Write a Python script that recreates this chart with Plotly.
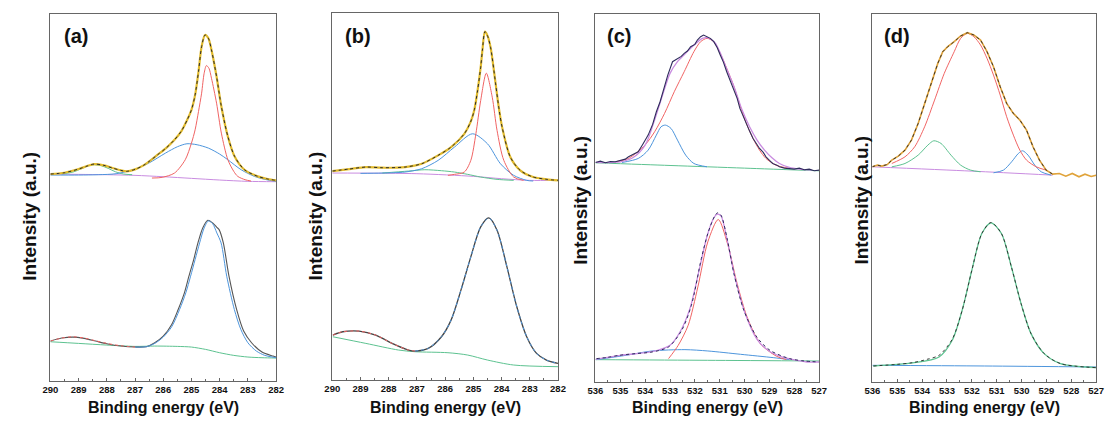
import plotly.graph_objects as go

# ---------------- tick labels ----------------
c1s_ticks = [290, 289, 288, 287, 286, 285, 284, 283, 282]
o1s_ticks = [536, 535, 534, 533, 532, 531, 530, 529, 528, 527]

# ---------------- Panel (a) upper ----------------
a_up_sum_e = [290, 289.5, 289, 288.7, 288.45, 288.1, 287.8, 287.5, 287.3, 287, 286.7, 286.5, 286.2, 285.9, 285.6,
              285.35, 285.15, 285, 284.87, 284.75, 284.64, 284.52, 284.4, 284.29, 284.11, 283.94, 283.71, 283.47,
              283.12, 282.65, 282.3, 282]
a_up_sum_i = [622, 626, 637, 646, 652, 648, 640, 633, 630, 636, 648, 660, 680, 700, 725,
              752, 785, 815, 860, 930, 1005, 1040, 1030, 995, 915, 825, 735, 675,
              635, 615, 607, 603]
a_up_red_e = [286.4, 286.04, 285.6, 285.22, 285.0, 284.87, 284.75, 284.64, 284.55, 284.47, 284.38, 284.29, 284.11,
              283.94, 283.71, 283.5, 283.36, 283.1, 282.89]
a_up_red_i = [610, 612, 625, 665, 715, 755, 810, 865, 925, 948, 940, 910, 835, 745, 665, 630, 615, 605, 601]
a_up_blue_e = [290, 289, 288.3, 287.67, 287, 286.51, 285.92, 285.5, 285.16, 284.8, 284.4, 284, 283.71, 283.24,
               282.77, 282.4, 282]
a_up_blue_i = [619, 619, 620, 623, 637, 655, 685, 704, 713, 710, 700, 682, 665, 635, 615, 606, 600]
a_up_green_e = [289.6, 289.2, 288.9, 288.65, 288.43, 288.2, 287.95, 287.7, 287.4, 287.1]
a_up_green_i = [622, 628, 638, 647, 650, 647, 639, 629, 622, 620]
a_up_bg_e = [290, 289, 288, 287, 286, 285, 284, 283, 282]
a_up_bg_i = [622, 621, 620, 618, 614, 609, 604, 600, 599]

# ---------------- Panel (a) lower ----------------
a_lo_raw_e = [290, 289.6, 289.2, 288.8, 288.4, 288, 287.5, 287, 286.6, 286.3, 286, 285.7, 285.47, 285.25, 285.09,
              284.92, 284.77, 284.6, 284.42, 284.25, 284.1, 284.02, 283.87, 283.67, 283.4, 283.15, 282.87, 282.5,
              282.11, 282]
a_lo_raw_i = [120, 129, 132, 128, 120, 112, 105, 102, 103, 115, 135, 170, 215, 265, 315,
              365, 415, 460, 483, 475, 462, 455, 415, 315, 215, 150, 115, 87, 75, 72]
a_lo_blue_e = [287, 286.6, 286.3, 286, 285.7, 285.42, 285.2, 285.03, 284.87, 284.71, 284.55, 284.4, 284.25, 284.1,
               283.95, 283.75, 283.48, 283.25, 283, 282.7, 282.4, 282]
a_lo_blue_i = [102, 103, 113, 132, 163, 215, 265, 315, 365, 415, 460, 481, 473, 445, 415, 315, 215, 155, 115, 90,
               77, 70]
a_lo_pink_e = [290, 289.6, 289.2, 288.8, 288.4, 288, 287.5, 287]
a_lo_pink_i = [120, 129, 133, 129, 121, 113, 106, 102]
a_lo_green_e = [290, 289, 288, 287, 286.3, 285.5, 285, 284.5, 284, 283.5, 283, 282.5, 282]
a_lo_green_i = [118, 113, 108, 104, 105, 104, 102, 95, 85, 77, 72, 70, 69]

# ---------------- Panel (b) upper ----------------
b_up_sum_e = [290, 289.4, 288.81, 288.23, 287.42, 286.83, 286.25, 285.79, 285.32, 285.1, 284.97, 284.85, 284.74,
              284.68, 284.59, 284.5, 284.39, 284.21, 284.1, 283.98, 283.69, 283.34, 282.88, 282.4, 282]
b_up_sum_i = [628, 634, 640, 638, 640, 650, 675, 700, 740, 775, 810, 870, 940, 990, 1047, 1035, 1000, 890, 820,
              760, 670, 630, 610, 603, 600]
b_up_red_e = [285.9, 285.67, 285.32, 285.09, 284.91, 284.74, 284.54, 284.33, 284.16, 283.92, 283.57, 283.22]
b_up_red_i = [615, 618, 625, 660, 740, 840, 922, 850, 750, 660, 610, 600]
b_up_blue_e = [289, 288.23, 287.42, 286.83, 286.25, 285.67, 285.03, 284.5, 284.04, 283.57, 283.11, 282.88]
b_up_blue_i = [621, 622, 625, 635, 660, 700, 740, 710, 650, 615, 600, 598]
b_up_green_e = [288.23, 287.3, 286.72, 286.13, 285.67, 285.2, 284.74, 284.16, 283.57]
b_up_green_i = [622, 628, 632, 629, 625, 618, 610, 603, 600]
b_up_bg_e = [290, 287, 285, 284, 283, 282]
b_up_bg_i = [622, 620, 612, 605, 600, 600]

# ---------------- Panel (b) lower ----------------
b_lo_raw_e = [289.98, 289.63, 289.05, 288.46, 287.88, 287.3, 287.07, 286.6, 286.13, 285.79, 285.44, 285.09,
              284.74, 284.45, 284.16, 283.81, 283.46, 283.11, 282.76, 282.41, 282]
b_lo_raw_i = [135, 145, 147, 135, 110, 90, 87, 95, 130, 180, 270, 370, 460, 487, 450, 340, 220, 130, 80, 60, 50]
b_lo_blue_e = [287.07, 286.6, 286.13, 285.79, 285.44, 285.09, 284.74, 284.45, 284.16, 283.81, 283.46, 283.11,
               282.76, 282.41, 282]
b_lo_blue_i = [87, 95, 130, 180, 270, 370, 460, 487, 450, 340, 220, 130, 80, 60, 50]
b_lo_pink_e = [289.98, 289.63, 289.05, 288.46, 287.88, 287.3, 287.07]
b_lo_pink_i = [135, 145, 147, 135, 110, 90, 87]
b_lo_green_e = [289.98, 288.81, 287.65, 287.07, 285.9, 285.2, 284.5, 283.57, 282]
b_lo_green_i = [130, 110, 90, 85, 82, 75, 60, 45, 40]

# ---------------- Panel (c) upper ----------------
c_up_raw_e = [536, 535.8, 535.6, 535.4, 535.2, 535.0, 534.8, 534.67, 534.5, 534.28, 534.1, 533.88, 533.7, 533.55,
              533.4, 533.29, 533.09, 532.9, 532.8, 532.7, 532.55, 532.43, 532.3, 532.17, 532.0, 531.9, 531.77,
              531.65, 531.51, 531.38, 531.24, 531.1, 530.98, 530.85, 530.72, 530.6, 530.45, 530.3, 530.19, 530.05,
              529.93, 529.8, 529.66, 529.5, 529.4, 529.25, 529.14, 529.0, 528.87, 528.7, 528.6, 528.4, 528.2,
              528.0, 527.8, 527.6, 527.4, 527.2, 527.0]
c_up_raw_i = [658, 662, 657, 661, 660, 664, 668, 675, 682, 690, 712, 740, 772, 810,
              840, 870, 920, 960, 965, 970, 976, 985, 992, 1005, 1012, 1025, 1035,
              1040, 1035, 1030, 1020, 1002, 980, 958, 930, 908, 880, 850, 820, 795,
              770, 752, 730, 712, 700, 688, 675, 664, 655, 650, 645, 641, 640,
              638, 641, 636, 638, 633, 635]
c_up_fit_e = [536, 535, 534.5, 534, 533.6, 533.3, 533, 532.7, 532.4, 532, 531.7, 531.5, 531.2, 531, 530.7, 530.4,
              530.1, 529.8, 529.5, 529.2, 528.9, 528.6, 528.2, 527.8, 527.3]
c_up_fit_i = [658, 660, 672, 710, 790, 860, 925, 960, 983, 1012, 1030, 1032, 1018, 990, 935, 880,
              815, 765, 725, 695, 672, 655, 643, 638, 635]
c_up_red_e = [535.2, 534.67, 534.01, 533.62, 533.22, 532.83, 532.43, 532.04, 531.77, 531.51, 531.24, 530.98,
              530.72, 530.45, 530.19, 529.93, 529.66, 529.4, 529.14, 528.74, 528.21]
c_up_red_i = [660, 670, 710, 750, 805, 870, 930, 990, 1020, 1030, 1020, 985, 940, 890, 830, 775, 730, 695, 670,
              650, 640]
c_up_blue_e = [534.93, 534.28, 533.88, 533.55, 533.36, 533.19, 532.96, 532.7, 532.37, 532.04, 531.51]
c_up_blue_i = [658, 670, 695, 740, 765, 770, 760, 725, 680, 655, 645]
c_up_bg_e = [536, 533, 530, 527]
c_up_bg_i = [657, 649, 641, 633]

# ---------------- Panel (c) lower ----------------
c_lo_raw_e = [535.96, 535.5, 535.04, 534.4, 533.72, 533.06, 532.53, 532.14, 531.74, 531.48, 531.22, 531.09,
              530.95, 530.69, 530.43, 530.03, 529.51, 528.98, 528.19, 527.6, 527]
c_lo_raw_i = [70, 74, 80, 85, 90, 105, 155, 230, 370, 445, 495, 507, 500, 425, 325, 215, 135, 95, 70, 63, 60]
c_lo_fit_e = [536, 535, 534, 533.5, 533, 532.6, 532.2, 531.8, 531.5, 531.25, 531.1, 530.95, 530.7, 530.4, 530,
              529.5, 529, 528.5, 528, 527.5, 527]
c_lo_fit_i = [68, 80, 88, 95, 110, 150, 220, 345, 440, 490, 503, 498, 425, 318, 210, 128, 92, 75, 66, 60, 60]
c_lo_red_e = [533.06, 532.67, 532.27, 531.88, 531.48, 531.06, 530.69, 530.3, 529.9, 529.37, 528.71, 528.32]
c_lo_red_i = [70, 110, 170, 285, 420, 487, 415, 295, 195, 115, 77, 67]
c_lo_blue_e = [535.96, 534.77, 533.72, 532.4, 531.48, 530.16, 528.85, 528.19]
c_lo_blue_i = [67, 80, 93, 97, 93, 83, 73, 67]
c_lo_bg_e = [536, 531.5, 527]
c_lo_bg_i = [67, 65, 63]

# ---------------- Panel (d) upper ----------------
d_up_raw_e = [536.01, 535.8, 535.62, 535.4, 535.22, 534.96, 534.69, 534.43, 534.16, 533.9, 533.64, 533.37, 533.17,
              532.97, 532.71, 532.45, 532.18, 531.92, 531.65, 531.39, 531.13, 530.86, 530.6, 530.33, 530.07, 529.8,
              529.54, 529.28, 529.01, 528.75, 528.48, 528.22, 527.96, 527.69, 527.45, 527.2, 527.0]
d_up_raw_i = [645, 650, 647, 652, 665, 677, 695, 725, 775, 835, 895, 955, 990,
              1005, 1020, 1037, 1047, 1040, 1025, 990, 945, 885, 835, 805, 785, 755,
              705, 665, 635, 623, 625, 617, 625, 615, 623, 616, 620]
d_up_red_e = [535.22, 534.69, 534.3, 533.9, 533.5, 533.11, 532.71, 532.45, 532.18, 531.92, 531.65, 531.39, 531.13,
              530.86, 530.6, 530.33, 530.07, 529.8, 529.41, 529.01]
d_up_red_i = [655, 675, 705, 765, 845, 925, 990, 1030, 1045, 1035, 1010, 970, 920, 860, 795, 740, 695, 665, 645,
              635]
d_up_green_e = [535.22, 534.69, 534.16, 533.77, 533.53, 533.24, 532.84, 532.45, 532.05, 531.65]
d_up_green_i = [645, 655, 680, 710, 723, 715, 680, 650, 635, 630]
d_up_blue_e = [531.13, 530.73, 530.4, 530.13, 529.96, 529.74, 529.47, 529.21, 528.81]
d_up_blue_i = [627, 635, 660, 685, 693, 680, 650, 630, 620]
d_up_bg_e = [536, 532, 528.75]
d_up_bg_i = [645, 632, 620]

# ---------------- Panel (d) lower ----------------
d_lo_fit_e = [535.96, 534.38, 533.32, 532.79, 532.39, 532.0, 531.6, 531.23, 530.81, 530.41, 530.02, 529.62,
              529.09, 528.43, 527.0]
d_lo_fit_i = [48, 57, 75, 125, 215, 335, 445, 477, 445, 345, 235, 145, 85, 55, 43]
d_lo_raw_e = [535.96, 535.0, 534.38, 533.8, 533.32, 532.79, 532.39, 532.0, 531.6, 531.23, 530.81, 530.41, 530.02,
              529.62, 529.09, 528.43, 527.0]
d_lo_raw_i = [48, 53, 58, 68, 80, 128, 215, 335, 445, 478, 445, 345, 235, 145, 85, 55, 43]
d_lo_bg_e = [536, 531.5, 527]
d_lo_bg_i = [50, 48, 45]

# ---------------- styling ----------------
YELLOW = "#e2bb2e"
BLACK = "#2a2a2a"
RED = "#f06464"
BLUE = "#4d95dc"
GREEN = "#5dc290"
PURPLE = "#c98ce0"
NAVY = "#2e2c5c"
ORANGE = "#e0a33a"
FONT = "Arial, 'Liberation Sans', sans-serif"

W, H = 1115, 423
boxes = [(43, 272, 14, 381), (329, 558, 13, 380), (596, 823, 14, 382), (877, 1104, 14, 382)]

fig = go.Figure()


def add(n, xs, ys, color, width=1.0, dash=None, shape="spline"):
    fig.add_trace(go.Scatter(
        x=xs, y=ys, mode="lines",
        line=dict(color=color, width=width, dash=dash, shape=shape, smoothing=0.8 if shape == "spline" else None),
        xaxis="x" if n == 1 else f"x{n}", yaxis="y" if n == 1 else f"y{n}",
        showlegend=False, hoverinfo="skip"))


# panel a
add(1, a_up_bg_e, a_up_bg_i, PURPLE)
add(1, a_up_green_e, a_up_green_i, GREEN)
add(1, a_up_blue_e, a_up_blue_i, BLUE)
add(1, a_up_red_e, a_up_red_i, RED)
add(1, a_up_sum_e, a_up_sum_i, YELLOW, 2.2)
add(1, a_up_sum_e, a_up_sum_i, BLACK, 1.0, "dot")
add(1, a_lo_green_e, a_lo_green_i, GREEN)
add(1, a_lo_raw_e, a_lo_raw_i, "#555555", 1.1)
add(1, a_lo_pink_e, a_lo_pink_i, RED, 1.0, "dot")
add(1, a_lo_blue_e, a_lo_blue_i, BLUE)

# panel b
add(2, b_up_bg_e, b_up_bg_i, PURPLE)
add(2, b_up_green_e, b_up_green_i, GREEN)
add(2, b_up_blue_e, b_up_blue_i, BLUE)
add(2, b_up_red_e, b_up_red_i, RED)
add(2, b_up_sum_e, b_up_sum_i, YELLOW, 2.2)
add(2, b_up_sum_e, b_up_sum_i, BLACK, 1.0, "dot")
add(2, b_lo_green_e, b_lo_green_i, GREEN)
add(2, b_lo_raw_e, b_lo_raw_i, "#444444", 1.3)
add(2, b_lo_pink_e, b_lo_pink_i, RED, 1.0, "dot")
add(2, b_lo_blue_e, b_lo_blue_i, BLUE, 1.0, "dot")

# panel c
add(3, c_up_bg_e, c_up_bg_i, GREEN)
add(3, c_up_blue_e, c_up_blue_i, BLUE)
add(3, c_up_red_e, c_up_red_i, RED)
add(3, c_up_fit_e, c_up_fit_i, PURPLE, 1.3)
add(3, c_up_raw_e, c_up_raw_i, NAVY, 1.1, shape="linear")
add(3, c_lo_bg_e, c_lo_bg_i, GREEN)
add(3, c_lo_blue_e, c_lo_blue_i, BLUE)
add(3, c_lo_red_e, c_lo_red_i, RED)
add(3, c_lo_fit_e, c_lo_fit_i, PURPLE, 1.3)
add(3, c_lo_raw_e, c_lo_raw_i, NAVY, 1.0, "dot")

# panel d
add(4, d_up_bg_e, d_up_bg_i, PURPLE)
add(4, d_up_green_e, d_up_green_i, GREEN)
add(4, d_up_blue_e, d_up_blue_i, BLUE)
add(4, d_up_red_e, d_up_red_i, RED)
add(4, d_up_raw_e, d_up_raw_i, ORANGE, 1.6, shape="linear")
add(4, d_up_raw_e[:30], d_up_raw_i[:30], BLACK, 0.9, "dot", shape="linear")
add(4, d_lo_bg_e, d_lo_bg_i, BLUE)
add(4, d_lo_fit_e, d_lo_fit_i, GREEN, 1.3)
add(4, d_lo_raw_e, d_lo_raw_i, BLACK, 0.9, "dot")

layout = dict(width=W, height=H, margin=dict(l=0, r=0, t=0, b=0),
              paper_bgcolor="white", plot_bgcolor="white", showlegend=False,
              font=dict(family=FONT, color="#111"))

ranges = [(290, 282), (290, 282), (536, 527), (536, 527)]
tickss = [c1s_ticks, c1s_ticks, o1s_ticks, o1s_ticks]
labels = ["(a)", "(b)", "(c)", "(d)"]
label_x = [55, 340, 606, 887]
ytitle_pos = [(22, 216), (312, 216), (580, 200), (865, 200)]
annotations = []
for i, (x0, x1, t, b) in enumerate(boxes):
    n = i + 1
    xa = "xaxis" if n == 1 else f"xaxis{n}"
    ya = "yaxis" if n == 1 else f"yaxis{n}"
    layout[xa] = dict(
        domain=[x0 / W, x1 / W], range=list(ranges[i]), anchor="y" if n == 1 else f"y{n}",
        showline=True, mirror=True, linecolor="#666", linewidth=1,
        showgrid=False, zeroline=False,
        tickmode="array", tickvals=tickss[i], ticktext=[str(v) for v in tickss[i]],
        ticks="inside", ticklen=3, tickcolor="#666", tickwidth=1,
        minor=dict(dtick=0.5, ticks="inside", ticklen=2, tickcolor="#666"),
        tickfont=dict(family=FONT, size=9.5, color="#111", weight="bold"),
    )
    layout[ya] = dict(
        domain=[1 - b / H, 1 - t / H], range=[0, 1103], anchor="x" if n == 1 else f"x{n}",
        showline=True, mirror=True, linecolor="#666", linewidth=1,
        showgrid=False, zeroline=False, showticklabels=False, ticks="",
    )
    annotations.append(dict(x=label_x[i] / W, y=1 - 36 / H, xref="paper", yref="paper",
                            text="<b>%s</b>" % labels[i], showarrow=False, xanchor="left", yanchor="middle",
                            font=dict(family=FONT, size=20, color="#111")))
    annotations.append(dict(x=(x0 + x1) / 2 / W, y=1 - 407 / H, xref="paper", yref="paper",
                            text="<b>Binding energy (eV)</b>", showarrow=False, xanchor="center",
                            yanchor="middle", font=dict(family=FONT, size=16, color="#111")))
    px, py = ytitle_pos[i]
    annotations.append(dict(x=px / W, y=1 - py / H, xref="paper", yref="paper",
                            text="<b>Intensity (a.u.)</b>", showarrow=False, textangle=-90,
                            xanchor="center", yanchor="middle", font=dict(family=FONT, size=19, color="#111")))
layout["annotations"] = annotations
fig.update_layout(**layout)
fig.write_html("out.html", config={"displayModeBar": False},
               post_script="document.body.style.margin='0';document.body.style.overflow='hidden';")
